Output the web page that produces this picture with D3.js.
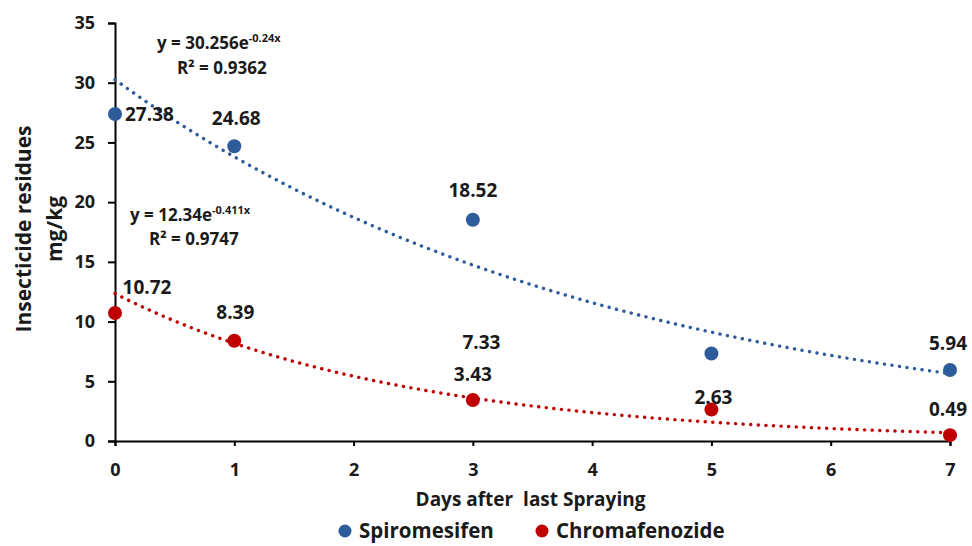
<!DOCTYPE html>
<html>
<head>
<meta charset="utf-8">
<script src="https://cdn.jsdelivr.net/npm/d3@7"></script>
<style>
  body { margin: 0; background: #fff; }
  text { font-family: "Open Sans", sans-serif; font-weight: bold; fill: #1a1a1a; white-space: pre; }
</style>
</head>
<body>
<svg width="972" height="546"></svg>
<script>
// data
var days = [0, 1, 3, 5, 7];
var spiromesifen = [27.38, 24.68, 18.52, 7.33, 5.94];
var chromafenozide = [10.72, 8.39, 3.43, 2.63, 0.49];
var seriesNames = ["Spiromesifen", "Chromafenozide"];
var fitA = [30.256, 12.34];
var fitB = [-0.24, -0.411];
var fitLabel = ["y = 30.256e", "y = 12.34e"];
var fitExp = ["-0.24x", "-0.411x"];
var fitR2 = ["R² = 0.9362", "R² = 0.9747"];
var xTicks = [0, 1, 2, 3, 4, 5, 6, 7];
var yTicks = [0, 5, 10, 15, 20, 25, 30, 35];

var colors = ["#2E5B9A", "#C00000"];

var svg = d3.select("svg"),
    margin = {top: 23, right: 22, bottom: 105, left: 115},
    width = +svg.attr("width") - margin.left - margin.right,
    height = +svg.attr("height") - margin.top - margin.bottom,
    g = svg.append("g").attr("transform", "translate(" + margin.left + "," + margin.top + ")");

var x = d3.scaleLinear().domain([0, 7]).range([0, width]);
var y = d3.scaleLinear().domain([0, 35]).range([height, 0]);

// axes
var yAxis = g.append("g")
    .call(d3.axisLeft(y).tickValues(yTicks).tickSize(7).tickPadding(13).tickFormat(d3.format("d")));
var xAxis = g.append("g")
    .attr("transform", "translate(0," + height + ")")
    .call(d3.axisBottom(x).tickValues(xTicks).tickSize(5).tickPadding(17).tickFormat(d3.format("d")));

[yAxis, xAxis].forEach(function(a) {
  a.select(".domain").attr("stroke", "#000").attr("stroke-width", 2);
  a.selectAll(".tick line").attr("stroke", "#000").attr("stroke-width", 2);
  a.selectAll(".tick text").style("font-size", "18px").attr("fill", "#1a1a1a");
});

// axis titles
g.append("text")
    .attr("x", width / 2 - 2)
    .attr("y", height + 65)
    .attr("text-anchor", "middle")
    .style("font-size", "19px")
    .text("Days after  last Spraying");

var yTitle = svg.append("text")
    .attr("transform", "translate(24," + 229 + ")rotate(-90)")
    .attr("text-anchor", "middle")
    .style("font-size", "21px");
yTitle.append("tspan").attr("x", 0).attr("dy", "0.35em").text("Insecticide residues");
yTitle.append("tspan").attr("x", 0).attr("dy", "1.45em").text("mg/kg");

// trendlines
var line = d3.line()
    .x(function(d) { return x(d[0]); })
    .y(function(d) { return y(d[1]); });

var curveX = d3.range(0, 7.001, 0.05);
[0, 1].forEach(function(s) {
  g.append("path")
      .datum(curveX.map(function(t) { return [t, fitA[s] * Math.exp(fitB[s] * t)]; }))
      .attr("fill", "none")
      .attr("stroke", colors[s])
      .attr("stroke-width", 3.4)
      .attr("stroke-linecap", "round")
      .attr("stroke-dasharray", "0.1 7.5")
      .attr("d", line);
});

// points
var series = [spiromesifen, chromafenozide];
// label offsets (dx, dy from point centre, text anchor)
var labelOffsets = [
  [[10, 0, "start"], [2, -28, "middle"], [0, -29, "middle"], [-230, -11, "middle"], [-2, -27, "middle"]],
  [[32, -26, "middle"], [1, -28, "middle"], [0, -26, "middle"], [2, -12, "middle"], [-2, -26, "middle"]]
];

series.forEach(function(vals, s) {
  g.append("g")
    .selectAll("circle")
    .data(vals)
    .enter().append("circle")
      .attr("cx", function(d, i) { return x(days[i]); })
      .attr("cy", function(d) { return y(d); })
      .attr("r", 7)
      .attr("fill", colors[s]);

  g.append("g")
    .selectAll("text")
    .data(vals)
    .enter().append("text")
      .attr("x", function(d, i) { return x(days[i]) + labelOffsets[s][i][0]; })
      .attr("y", function(d, i) { return y(d) + labelOffsets[s][i][1]; })
      .attr("dy", "0.35em")
      .attr("text-anchor", function(d, i) { return labelOffsets[s][i][2]; })
      .style("font-size", "19px")
      .text(function(d) { return d.toFixed(2); });
});

// trendline equations
var eqPos = [[157, 49], [130, 221]];
var r2Pos = [[177, 74], [149, 245]];
[0, 1].forEach(function(s) {
  var t = svg.append("text")
      .attr("x", eqPos[s][0])
      .attr("y", eqPos[s][1])
      .style("font-size", "17px");
  t.append("tspan").text(fitLabel[s]);
  t.append("tspan").attr("dy", "-7").style("font-size", "11px").text(fitExp[s]);
  svg.append("text")
      .attr("x", r2Pos[s][0])
      .attr("y", r2Pos[s][1])
      .style("font-size", "17px")
      .text(fitR2[s]);
});

// legend
var legendX = [345, 542];
var legend = svg.append("g")
  .selectAll("g")
  .data(seriesNames)
  .enter().append("g")
    .attr("transform", function(d, i) { return "translate(" + legendX[i] + ",531)"; });

legend.append("circle")
    .attr("r", 6.5)
    .attr("fill", function(d, i) { return colors[i]; });

legend.append("text")
    .attr("x", 14)
    .attr("dy", "0.35em")
    .style("font-size", "20.5px")
    .text(function(d) { return d; });
</script>
</body>
</html>
